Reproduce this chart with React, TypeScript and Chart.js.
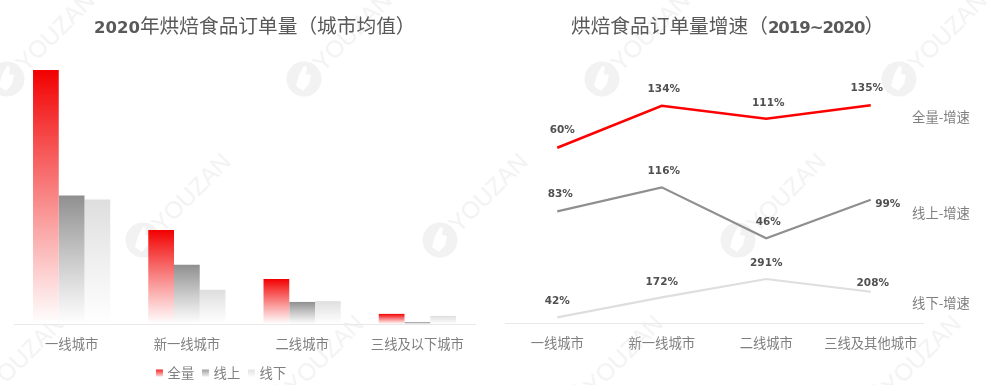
import React, { useEffect, useRef } from "react";
import { Chart, registerables } from "chart.js";

Chart.register(...registerables);

const CJK = '"Noto Sans CJK SC", "Noto Sans", sans-serif';
const NUM = '"DejaVu Sans", Inter, sans-serif';

// left chart (index of city average orders, tallest bar = 100)
const barCategories = ["一线城市", "新一线城市", "二线城市", "三线及以下城市"];
const barTotal = [100, 37, 17.7, 4];
const barOnline = [50.6, 23.3, 8.7, 0.8];
const barOffline = [49, 13.5, 9, 3.2];

// right chart
const lineCategories = ["一线城市", "新一线城市", "二线城市", "三线及其他城市"];
const growthTotal = [60, 134, 111, 135];
const growthOnline = [83, 116, 46, 99];
const growthOffline = [42, 172, 291, 208];

const RED = "#f20000";
const GREY = "#8f8f8f";
const LIGHT = "#dedede";

const gradientBar = (color: string) => (c: any) => {
  const chart = c.chart;
  const { chartArea, scales } = chart;
  if (!chartArea || c.type !== "data") return color;
  const top = scales.y.getPixelForValue(c.raw);
  const g = chart.ctx.createLinearGradient(0, top, 0, chartArea.bottom);
  g.addColorStop(0, color);
  g.addColorStop(1, "rgba(255,255,255,0.9)");
  return g;
};

const moveLegend = {
  id: "moveLegend",
  afterLayout(chart: any) {
    if (chart.legend) {
      chart.legend.left = 148.2;
      chart.legend.top += 4.75;
    }
  },
};

// per-point offsets of the value labels relative to the point, by series
const labelOffsets = [
  [[5, -17], [2, -16], [2, -16], [-4, -17]],
  [[3, -17], [2, -16], [2, -16], [17, 5]],
  [[0, -16], [0, -15], [0, -16], [2, -9]],
];
const seriesNameDy = [12, 13, 11];

const lineLabels = {
  id: "lineLabels",
  afterDatasetsDraw(chart: any) {
    const ctx = chart.ctx;
    ctx.save();
    ctx.textAlign = "center";
    ctx.textBaseline = "middle";
    chart.data.datasets.forEach((ds: any, i: number) => {
      const pts = chart.getDatasetMeta(i).data;
      ctx.font = `bold 10.5px ${NUM}`;
      ctx.fillStyle = "#505050";
      pts.forEach((p: any, j: number) => {
        const [dx, dy] = labelOffsets[i][j];
        ctx.fillText(`${ds.data[j]}%`, p.x + dx, p.y + dy);
      });
      ctx.font = `13.3px ${CJK}`;
      ctx.fillStyle = "#7f7f7f";
      ctx.fillText(`${ds.label}-增速`, 446, pts[3].y + seriesNameDy[i]);
    });
    ctx.restore();
  },
};

const tickFont = { size: 13.3, family: CJK };
const xAxis = (labels: string[], height: number) => ({
  type: "category" as const,
  labels,
  offset: true,
  grid: { display: false, drawTicks: false },
  border: { display: true, color: "#e9e9e9", width: 1 },
  ticks: { color: "#7f7f7f", font: tickFont, padding: 12, maxRotation: 0, autoSkip: false },
  afterFit(s: any) {
    s.height = height;
  },
});

const wmTop = [7, 304, 602, 899].map((x) => [x, 79]);
const wmMid = [143, 440, 738].map((x) => [x, 240]);
const wmBot = [-24, 276, 575, 873].map((x) => [x, 402]);
const marks = [...wmTop, ...wmMid, ...wmBot];

function Watermark({ x, y }: { x: number; y: number }) {
  return (
    <>
      <svg width={36} height={36} viewBox="0 0 36 36" style={{ position: "absolute", left: x - 18, top: y - 18 }}>
        <circle cx={18} cy={18} r={17.5} fill="#f2f2f2" />
        <path d="M10 25l7 5 6-7 2-9-5-1 1-7-3-1-5 9-2 7z" fill="#fff" />
      </svg>
      <div
        style={{
          position: "absolute",
          left: x + 13,
          top: y - 26,
          height: 28,
          lineHeight: "28px",
          font: '24px "Liberation Sans", sans-serif',
          color: "#f3f3f3",
          transform: "rotate(-45deg)",
          transformOrigin: "0 50%",
          whiteSpace: "nowrap",
        }}
      >
        YOUZAN
      </div>
    </>
  );
}

const titleStyle: React.CSSProperties = {
  position: "absolute",
  top: 10,
  font: `19.7px/30px ${CJK}`,
  color: "#595959",
  whiteSpace: "nowrap",
};
const numStyle: React.CSSProperties = { fontFamily: NUM, fontWeight: 700, fontSize: 16.5 };

export default function App() {
  const barRef = useRef<HTMLCanvasElement>(null);
  const lineRef = useRef<HTMLCanvasElement>(null);

  useEffect(() => {
    const bar = new Chart(barRef.current!, {
      type: "bar",
      data: {
        labels: barCategories,
        datasets: [
          { label: "全量", data: barTotal, backgroundColor: gradientBar(RED) },
          { label: "线上", data: barOnline, backgroundColor: gradientBar(GREY) },
          { label: "线下", data: barOffline, backgroundColor: gradientBar(LIGHT) },
        ],
      },
      options: {
        responsive: false,
        animation: false,
        categoryPercentage: 0.67,
        barPercentage: 1,
        layout: { padding: { left: 14, right: 20, top: 70, bottom: 0 } },
        scales: {
          x: xAxis(barCategories, 27.9),
          y: { display: false, min: 0, max: 100 },
        },
        plugins: {
          title: { display: false },
          tooltip: { enabled: false },
          legend: {
            position: "bottom",
            align: "start",
            labels: {
              boxWidth: 3,
              boxHeight: 3,
              padding: 9.75,
              color: "#7f7f7f",
              font: { size: 13.3, family: CJK },
              generateLabels(chart: any) {
                const g = (color: string) => {
                  const gr = chart.ctx.createLinearGradient(0, 368, 0, 378);
                  gr.addColorStop(0, color);
                  gr.addColorStop(1, "#ffffff");
                  return gr;
                };
                return chart.data.datasets.map((d: any, i: number) => {
                  const fill = g([RED, GREY, LIGHT][i]);
                  return {
                    text: d.label,
                    fillStyle: fill,
                    strokeStyle: fill,
                    lineWidth: 4,
                    fontColor: "#7f7f7f",
                    datasetIndex: i,
                  };
                });
              },
            },
          },
        },
      } as any,
      plugins: [moveLegend],
    });

    const line = new Chart(lineRef.current!, {
      type: "line",
      data: {
        labels: lineCategories,
        datasets: [
          { label: "全量", data: growthTotal, yAxisID: "yTotal", borderColor: "#ff0000", borderWidth: 2.5 },
          { label: "线上", data: growthOnline, yAxisID: "yOnline", borderColor: GREY, borderWidth: 2.2 },
          { label: "线下", data: growthOffline, yAxisID: "yOffline", borderColor: LIGHT, borderWidth: 2.2 },
        ],
      },
      options: {
        responsive: false,
        animation: false,
        elements: { point: { radius: 0 }, line: { tension: 0 } },
        layout: { padding: { left: 10, right: 67, top: 53, bottom: 25.5 } },
        scales: {
          x: xAxis(lineCategories, 36.5),
          yTotal: { display: false, min: -248.8, max: 226.9 },
          yOnline: { display: false, min: -70.2, max: 300.4 },
          yOffline: { display: false, min: 5, max: 1760 },
        },
        plugins: { legend: { display: false }, tooltip: { enabled: false } },
      } as any,
      plugins: [lineLabels],
    });

    return () => {
      bar.destroy();
      line.destroy();
    };
  }, []);

  return (
    <div style={{ position: "absolute", left: 0, top: 0, width: 990, height: 385, overflow: "hidden", background: "#fff" }}>
      {marks.map(([x, y]) => (
        <Watermark key={`${x}-${y}`} x={x} y={y} />
      ))}
      <canvas ref={barRef} width={495} height={385} style={{ position: "absolute", left: 0, top: 0 }} />
      <canvas ref={lineRef} width={495} height={385} style={{ position: "absolute", left: 495, top: 0 }} />
      <div style={{ ...titleStyle, left: 94 }}>
        <span style={numStyle}>2020</span>年烘焙食品订单量（城市均值）
      </div>
      <div style={{ ...titleStyle, left: 571 }}>
        烘焙食品订单量增速（<span style={{ ...numStyle, letterSpacing: -1 }}>2019~2020</span>）
      </div>
    </div>
  );
}
